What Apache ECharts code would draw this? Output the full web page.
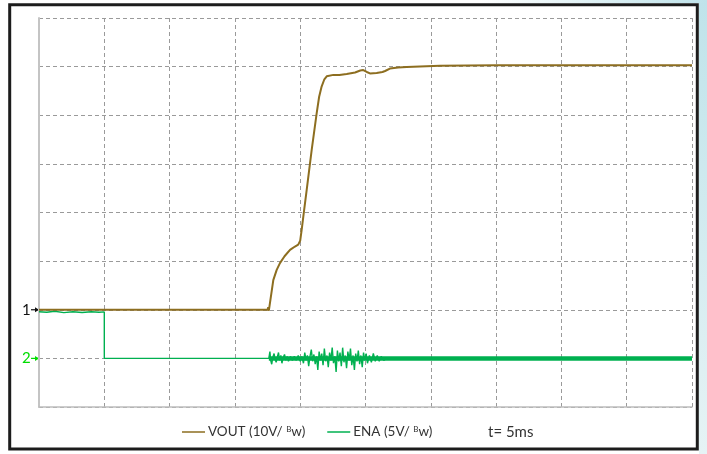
<!DOCTYPE html>
<html><head><meta charset="utf-8">
<script src="https://cdn.jsdelivr.net/npm/echarts@6/dist/echarts.min.js"></script>
<style>html,body{margin:0;padding:0;background:#fff}#c{width:707px;height:454px}</style>
</head><body><div id="c"></div>
<script>
// time axis: ms (5 ms/div), VOUT in V (10 V/div, ground at div 2), ENA in V (5 V/div, ground at div 1)
const timeDivs = [0, 5, 10, 15, 20, 25, 30, 35, 40, 45, 50];
const voutTrace = [
  [0,0],[17.5,0],[17.55,0.5],[17.6,-0.2],[17.65,0],[17.94,6.1],[18.2,8.2],[18.45,9.6],[18.8,11.0],
  [19.22,12.3],[19.6,13.0],[19.85,13.4],[20.0,14.2],[20.11,16.4],[20.3,20.5],[20.5,24.7],[20.88,32.9],
  [21.26,40.4],[21.45,43.8],[21.64,45.9],[21.85,47.4],[22.03,48.0],[22.54,48.3],[23.0,48.3],[23.56,48.5],
  [24.2,48.8],[24.6,49.2],[24.83,49.3],[25.1,48.9],[25.34,48.6],[25.85,48.7],[26.3,48.9],[26.5,49.1],
  [26.87,49.6],[27.5,49.8],[28.15,49.9],[30.7,50.2],[35,50.3],[50,50.3]
];
const enaTrace = [
  [0,4.8],[0.6,4.75],[1.2,4.85],[1.9,4.7],[2.6,4.8],[3.3,4.72],[4.0,4.8],[4.6,4.75],[5.0,4.78],[5.0,0],
  [17.60,0],[17.68,0.7],[17.74,-0.2],[17.82,-0.6],[17.90,0.1],[18.00,0.5],[18.08,-0.1],[18.16,-0.4],
  [18.26,0.2],[18.34,0.6],[18.42,-0.2],[18.52,0.3],[18.60,-0.5],[18.70,0.1],[18.80,0.4],[18.90,-0.2],
  [19.00,0.2],[19.10,-0.3],[19.25,0.2],[19.40,-0.2],[19.55,0.2],[19.70,-0.2],[19.85,0.3],[20.00,-0.3],
  [20.12,0.2],[20.25,-0.5],[20.35,0.6],[20.45,-0.2],[20.55,0.3],[20.65,-0.8],[20.75,0.2],[20.85,0.9],
  [20.95,-0.3],[21.05,0.4],[21.15,-0.6],[21.25,0.2],[21.35,-1.2],[21.45,0.7],[21.55,-0.2],[21.65,0.5],
  [21.75,-0.7],[21.85,1.0],[21.95,-0.3],[22.05,0.3],[22.15,-0.9],[22.25,0.6],[22.35,-0.2],[22.45,1.1],
  [22.55,-0.5],[22.65,0.2],[22.75,-1.4],[22.85,0.8],[22.95,-0.3],[23.05,0.6],[23.15,-0.8],[23.25,1.1],
  [23.35,-0.4],[23.45,0.3],[23.55,-1.0],[23.65,0.7],[23.75,-0.2],[23.85,1.0],[23.95,-0.7],[24.05,0.3],
  [24.15,-1.2],[24.25,0.5],[24.35,-0.3],[24.45,0.8],[24.55,-0.6],[24.65,0.3],[24.75,-0.9],[24.85,0.6],
  [24.95,-0.2],[25.05,0.5],[25.15,-0.5],[25.30,0.3],[25.45,-0.4],[25.60,0.5],[25.75,-0.3],[25.90,0.3],
  [26.05,-0.3],[26.20,0.2],[26.40,-0.2],[26.60,0],[50,0]
];
const enaBand = [[17.6,0],[50,0]];
const legendNames = ['VOUT', 'ENA'];
const legendLabels = { VOUT: 'VOUT (10V/ {s|B}w)', ENA: 'ENA (5V/ {s|B}w)' };
const timebaseText = 't= 5ms';

const VOUT_C = '#8d6e20', ENA_C = '#00b050', MARK2_C = '#00dd00';
const chart = echarts.init(document.getElementById('c'), null, {renderer: 'canvas'});
const grid = {left: 39, right: 15, top: 18, bottom: 47};
const dash = {color: '#9a9a9a', width: 1, type: [4, 3]};
chart.setOption({
  animation: false,
  backgroundColor: '#fff',
  grid: grid,
  xAxis: {type: 'value', min: timeDivs[0], max: timeDivs[timeDivs.length-1], interval: 5,
    axisLine: {show: true, onZero: false, lineStyle: {color: '#bdbdbd', width: 1.5}},
    axisTick: {show: false}, axisLabel: {show: false},
    splitLine: {show: true, lineStyle: dash}},
  yAxis: [
    {type: 'value', min: -20, max: 60, interval: 10,
      axisLine: {show: true, onZero: false, lineStyle: {color: '#c4c4c4', width: 2}},
      axisTick: {show: false}, axisLabel: {show: false},
      splitLine: {show: true, lineStyle: dash}},
    {type: 'value', min: -5, max: 35, interval: 5, show: false, splitLine: {show: false}}
  ],
  legend: {
    data: legendNames, left: 182, top: 425, padding: 0, itemWidth: 23, itemHeight: 1.5, itemGap: 22,
    icon: 'rect', selectedMode: false,
    formatter: n => legendLabels[n],
    textStyle: {fontFamily: 'Lato', fontSize: 13.5, color: '#333', padding: [0,0,0,-2],
      rich: {s: {fontFamily: 'Lato', fontSize: 8, color: '#333', verticalAlign: 'top', padding: [0,0,6,0]}}}
  },
  series: [
    {name: 'ENA band', type: 'line', yAxisIndex: 1, data: enaBand, showSymbol: false, silent: true,
      lineStyle: {color: ENA_C, width: 4.5}, z: 2},
    {name: 'ENA', type: 'line', yAxisIndex: 1, data: enaTrace, showSymbol: false,
      itemStyle: {color: ENA_C}, lineStyle: {color: ENA_C, width: 1.4}, z: 3},
    {name: 'VOUT', type: 'line', yAxisIndex: 0, data: voutTrace, showSymbol: false,
      itemStyle: {color: VOUT_C}, lineStyle: {color: VOUT_C, width: 2}, z: 4}
  ]
});
const y1 = chart.convertToPixel({yAxisIndex: 0}, 0);
const y2 = chart.convertToPixel({yAxisIndex: 1}, 0);
chart.setOption({
  graphic: [
    {type: 'rect', shape: {x: 699, y: 0, width: 8, height: 454}, silent: true,
      style: {fill: new echarts.graphic.LinearGradient(0,0,0,1,[{offset:0,color:'#bfe3ea'},{offset:1,color:'#e6f3f5'}])}},
    {type: 'rect', shape: {x: 480, y: 0, width: 227, height: 3.2}, silent: true,
      style: {fill: new echarts.graphic.LinearGradient(0,0,1,0,[{offset:0,color:'#ffffff'},{offset:1,color:'#bfe3ea'}])}},
    {type: 'rect', shape: {x: 9.7, y: 4.7, width: 687.6, height: 444.3}, silent: true,
      style: {fill: 'none', stroke: '#1c1c1c', lineWidth: 3}},
    {type: 'text', x: 22, y: y1, style: {text: '1', font: '15px Lato', fill: '#111', textVerticalAlign: 'middle'}},
    {type: 'line', shape: {x1: 31, y1: y1, x2: 38, y2: y1}, style: {stroke: '#111', lineWidth: 1.2}},
    {type: 'polygon', shape: {points: [[39, y1], [35, y1-2.5], [35, y1+2.5]]}, style: {fill: '#111'}},
    {type: 'text', x: 22, y: y2, style: {text: '2', font: '15px Lato', fill: MARK2_C, textVerticalAlign: 'middle'}},
    {type: 'line', shape: {x1: 31, y1: y2, x2: 38, y2: y2}, style: {stroke: MARK2_C, lineWidth: 1.2}},
    {type: 'polygon', shape: {points: [[39, y2], [35, y2-2.5], [35, y2+2.5]]}, style: {fill: MARK2_C}},
    {type: 'text', x: 488, y: 432, style: {text: timebaseText, font: '15px Lato', fill: '#333', textVerticalAlign: 'middle'}}
  ]
});
</script></body></html>
